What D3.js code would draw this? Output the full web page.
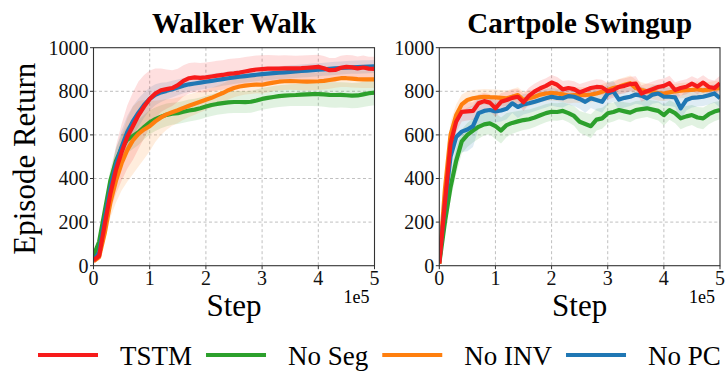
<!DOCTYPE html>
<html>
<head>
<meta charset="utf-8">
<script src="https://cdn.jsdelivr.net/npm/d3@7"></script>
<style>
  body { margin: 0; background: #fff; }
  svg { display: block; }
  text { font-family: "Liberation Serif", "Times New Roman", "DejaVu Serif", serif; }
</style>
</head>
<body>
<svg id="chart" width="725" height="371"></svg>
<script>
// step values in units of 1e5
const steps = [0,0.1,0.2,0.3,0.4,0.5,0.6,0.7,0.8,0.9,1.0,1.1,1.2,1.3,1.4,1.5,1.6,1.7,1.8,1.9,2.0,2.1,2.2,2.3,2.4,2.5,2.6,2.7,2.8,2.9,3.0,3.1,3.2,3.3,3.4,3.5,3.6,3.7,3.8,3.9,4.0,4.1,4.2,4.3,4.4,4.5,4.6,4.7,4.8,4.9,5.0];
const xTicks = [0, 1, 2, 3, 4, 5];
const yTicks = [0, 200, 400, 600, 800, 1000];

const seriesNames = ['TSTM', 'No Seg', 'No INV', 'No PC'];
const seriesColors = ['#f71b1b', '#2ca02c', '#ff7f0e', '#1f77b4'];

// Walker Walk
const walkerTSTM = [25,45,190,330,440,520,590,640,690,730,765,790,805,810,815,828,848,860,864,862,864,868,872,875,880,882,886,891,896,900,902,904,904,904,905,905,905,906,908,910,912,906,897,898,908,912,910,905,909,904,903];
const walkerNoSeg = [45,110,250,390,480,540,578,595,612,636,658,672,683,692,697,700,706,712,716,722,730,737,742,746,749,751,751,750,752,758,765,770,774,778,780,782,783,785,786,787,787,786,784,783,784,782,780,781,786,791,794];
const walkerNoINV = [20,40,150,290,390,470,530,575,605,625,640,662,680,694,704,713,724,734,743,752,761,770,781,792,805,815,822,826,829,831,830,835,840,844,846,847,846,845,844,845,846,848,852,856,860,860,858,856,855,855,855];
const walkerNoPC = [25,60,215,355,465,545,612,662,702,737,765,784,795,802,810,818,826,832,836,840,844,848,852,856,860,864,867,870,873,876,879,881,883,885,887,889,891,893,895,897,899,901,903,905,907,909,910,911,912,913,914];

const walkerTSTMStd = [8,15,45,80,110,130,145,155,155,145,130,115,100,90,82,76,72,70,68,68,68,68,68,68,68,68,67,66,65,64,63,62,61,60,60,59,58,58,57,57,56,56,56,55,55,55,55,55,55,55,55];
const walkerNoSegStd = [10,20,40,55,60,62,62,60,58,56,55,54,53,52,51,50,50,50,50,50,50,50,50,50,50,50,50,50,50,50,50,50,50,50,50,50,50,52,54,55,56,57,58,58,58,58,58,58,58,58,58];
const walkerNoINVStd = [8,15,40,70,100,125,145,155,150,135,115,95,80,70,62,58,55,52,50,48,47,46,45,44,43,42,42,41,41,40,40,40,40,40,40,40,40,40,40,40,40,40,40,40,40,40,40,40,40,40,40];
const walkerNoPCStd = [8,15,40,60,70,75,75,70,65,58,52,48,44,40,38,36,35,34,33,33,32,32,32,31,31,31,30,30,30,30,30,30,30,30,30,30,30,30,30,30,30,30,30,30,30,30,30,30,30,30,30];

// Cartpole Swingup
const cartTSTM = [10,290,560,660,706,708,710,745,755,748,722,752,760,770,775,750,780,800,814,825,840,830,809,815,810,795,805,815,820,818,800,806,820,825,833,835,790,800,810,820,825,837,806,815,821,835,822,840,820,815,837];
const cartNoSeg = [10,200,360,480,570,600,620,637,648,653,640,620,645,655,662,668,672,680,690,700,706,705,710,700,687,660,650,640,670,676,699,705,714,708,702,714,718,722,716,710,691,714,700,676,685,691,680,676,695,707,714];
const cartNoINV = [10,350,600,690,740,760,768,772,775,773,772,770,768,775,783,760,768,775,785,790,793,790,786,780,783,783,783,785,790,798,806,815,821,830,837,815,806,800,798,792,790,795,800,803,805,806,810,804,808,812,815];
const cartNoPC = [20,280,500,590,615,625,640,700,710,714,708,712,720,745,728,740,745,752,760,768,775,770,768,778,775,765,752,768,760,752,790,800,762,770,775,785,780,768,785,790,775,775,772,722,760,770,772,775,782,790,768];

const cartTSTMStd = [5,60,60,50,45,42,40,40,38,38,40,40,38,38,36,40,38,36,36,35,35,36,38,36,36,38,36,35,35,35,38,36,35,35,34,34,38,36,35,34,34,34,36,35,34,34,35,34,35,35,34];
const cartNoSegStd = [5,50,60,60,55,55,55,55,50,50,60,60,55,50,48,46,45,44,42,42,40,40,40,42,45,50,52,55,50,48,45,44,42,42,44,42,40,40,42,44,48,45,46,50,48,46,48,50,46,44,42];
const cartNoINVStd = [5,60,60,50,45,40,38,36,36,36,36,36,36,36,36,38,36,36,35,35,35,35,35,36,36,36,36,35,35,35,35,35,35,35,35,38,36,35,35,35,35,35,35,35,35,35,35,35,35,35,35];
const cartNoPCStd = [5,70,90,90,95,100,95,70,60,55,50,50,48,45,50,46,45,44,42,42,40,42,42,40,42,45,50,45,48,50,50,48,46,44,42,42,42,44,42,42,42,42,44,55,48,44,42,42,42,42,44];

const panels = [
  { title: 'Walker Walk', x0: 93.5, x1: 374.5, showYLabel: true,
    data: [walkerTSTM, walkerNoSeg, walkerNoINV, walkerNoPC],
    std: [walkerTSTMStd, walkerNoSegStd, walkerNoINVStd, walkerNoPCStd] },
  { title: 'Cartpole Swingup', x0: 439.3, x1: 720, showYLabel: false,
    data: [cartTSTM, cartNoSeg, cartNoINV, cartNoPC],
    std: [cartTSTMStd, cartNoSegStd, cartNoINVStd, cartNoPCStd] },
];

const plotTop = 47.7, plotBottom = 265.7;
const svg = d3.select('#chart');

// draw order: green, orange, blue, red on top
const drawOrder = [1, 2, 3, 0];

panels.forEach((p, pi) => {
  const x = d3.scaleLinear().domain([0, 5]).range([p.x0, p.x1]);
  const y = d3.scaleLinear().domain([0, 1000]).range([plotBottom, plotTop]);
  const g = svg.append('g');

  // grid
  g.selectAll('.vgrid').data(xTicks.slice(1, -1)).join('line')
    .attr('x1', d => x(d)).attr('x2', d => x(d))
    .attr('y1', plotTop).attr('y2', plotBottom)
    .attr('stroke', '#b8b8b8').attr('stroke-width', 0.9)
    .attr('stroke-dasharray', '3,2.5');
  g.selectAll('.hgrid').data(yTicks.slice(1, -1)).join('line')
    .attr('x1', p.x0).attr('x2', p.x1)
    .attr('y1', d => y(d)).attr('y2', d => y(d))
    .attr('stroke', '#b8b8b8').attr('stroke-width', 0.9)
    .attr('stroke-dasharray', '3,2.5');

  g.append('clipPath').attr('id', 'clip' + pi)
    .append('rect')
    .attr('x', p.x0).attr('y', plotTop)
    .attr('width', p.x1 - p.x0).attr('height', plotBottom - plotTop);
  const plot = g.append('g').attr('clip-path', 'url(#clip' + pi + ')');

  const area = d3.area()
    .x(d => x(d.s))
    .y0(d => y(d.v - d.e))
    .y1(d => y(d.v + d.e));
  const line = d3.line().x(d => x(d.s)).y(d => y(d.v));

  const rows = p.data.map((arr, k) =>
    steps.map((s, i) => ({ s: s, v: arr[i], e: p.std[k][i] })));

  drawOrder.forEach(k => {
    plot.append('path').datum(rows[k])
      .attr('d', area)
      .attr('fill', seriesColors[k])
      .attr('fill-opacity', 0.14);
  });
  drawOrder.forEach(k => {
    plot.append('path').datum(rows[k])
      .attr('d', line)
      .attr('fill', 'none')
      .attr('stroke', seriesColors[k])
      .attr('stroke-width', 4.2)
      .attr('stroke-linejoin', 'round');
  });

  // frame
  g.append('rect')
    .attr('x', p.x0).attr('y', plotTop)
    .attr('width', p.x1 - p.x0).attr('height', plotBottom - plotTop)
    .attr('fill', 'none').attr('stroke', '#333').attr('stroke-width', 1.1);

  // ticks
  g.selectAll('.xt').data(xTicks).join('line')
    .attr('x1', d => x(d)).attr('x2', d => x(d))
    .attr('y1', plotBottom).attr('y2', plotBottom + 3.5)
    .attr('stroke', '#333').attr('stroke-width', 1);
  g.selectAll('.yt').data(yTicks).join('line')
    .attr('x1', p.x0 - 3.5).attr('x2', p.x0)
    .attr('y1', d => y(d)).attr('y2', d => y(d))
    .attr('stroke', '#333').attr('stroke-width', 1);

  g.selectAll('.xl').data(xTicks).join('text')
    .attr('x', d => x(d)).attr('y', 285)
    .attr('text-anchor', 'middle')
    .attr('font-size', 20).attr('fill', '#111')
    .text(d => d);
  g.selectAll('.yl').data(yTicks).join('text')
    .attr('x', p.x0 - 5).attr('y', d => y(d))
    .attr('dy', '0.34em')
    .attr('text-anchor', 'end')
    .attr('font-size', 20).attr('fill', '#111')
    .text(d => d);

  g.append('text')
    .attr('x', (p.x0 + p.x1) / 2).attr('y', 33)
    .attr('text-anchor', 'middle')
    .attr('font-size', 29).attr('font-weight', 'bold')
    .text(p.title);

  g.append('text')
    .attr('x', (p.x0 + p.x1) / 2).attr('y', 316)
    .attr('text-anchor', 'middle')
    .attr('font-size', 31)
    .text('Step');

  g.append('text')
    .attr('x', p.x1 - 5).attr('y', 303)
    .attr('text-anchor', 'end')
    .attr('font-size', 18)
    .text('1e5');

  if (p.showYLabel) {
    g.append('text')
      .attr('transform', 'translate(35,' + ((plotTop + plotBottom) / 2 + 2) + ') rotate(-90)')
      .attr('text-anchor', 'middle')
      .attr('font-size', 31)
      .text('Episode Return');
  }
});

// legend
const legend = svg.append('g');
let lx = 38;
const ly = 355;
seriesNames.forEach((name, k) => {
  legend.append('line')
    .attr('x1', lx).attr('x2', lx + 60)
    .attr('y1', ly).attr('y2', ly)
    .attr('stroke', seriesColors[k]).attr('stroke-width', 4.2);
  const t = legend.append('text')
    .attr('x', lx + 82).attr('y', ly + 10)
    .attr('font-size', 27)
    .text(name);
  lx = lx + 82 + t.node().getComputedTextLength() + 14;
});
</script>
</body>
</html>
